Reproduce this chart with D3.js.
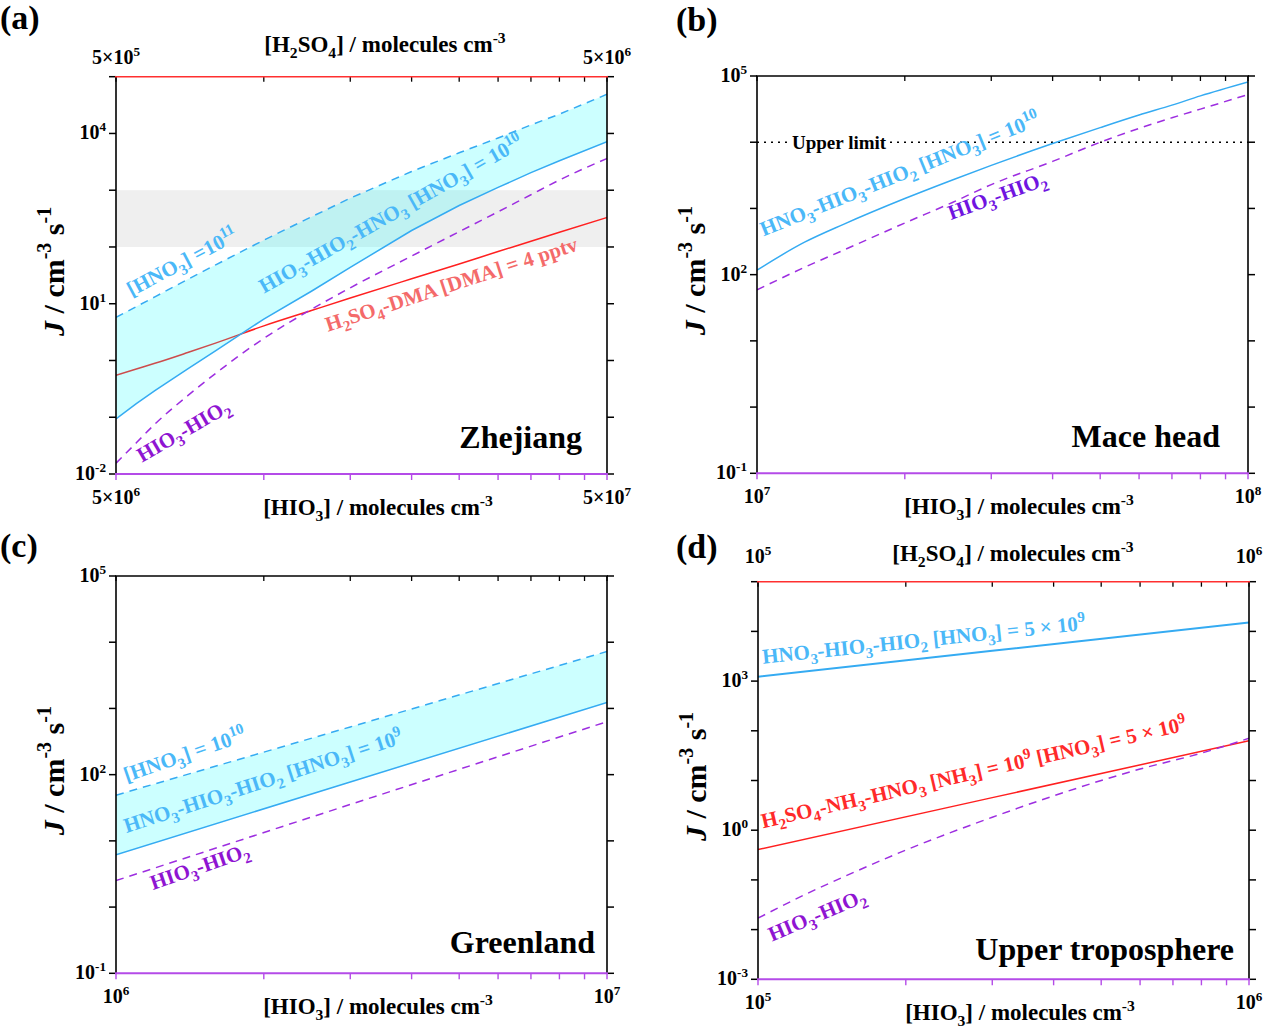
<!DOCTYPE html>
<html><head><meta charset="utf-8">
<script src="https://cdn.jsdelivr.net/npm/d3@7"></script>
<style>html,body{margin:0;padding:0;background:#fff;}svg{display:block;}</style>
</head><body>
<script>
// ---------------- DATA ----------------
// Panel (a) Zhejiang
const hio3A  = [5e6,5.5e6,6e6,7e6,8e6,1e7,1.25e7,1.5e7,2e7,2.5e7,3e7,3.5e7,4e7,5e7];
const h2so4A = [5e5,5.5e5,6e5,7e5,8e5,1e6,1.25e6,1.5e6,2e6,2.5e6,3e6,3.5e6,4e6,5e6];
const jA_HNO3_1e11 = [5.75,8.9,13.2,26.9,49,132,339,724,2140,4570,8320,14100,21900,49000];
const jA_HNO3_1e10 = [0.0933,0.174,0.295,0.708,1.51,5.37,16.6,43.7,195,537,1120,2040,3310,7160];
const jA_DMA       = [0.55,0.708,0.891,1.38,2.04,4.07,7.59,12.6,27.5,50.1,83.2,126,182,331];
const jA_HIO3      = [0.0155,0.0355,0.0759,0.24,0.603,2.45,7.94,19.1,69.2,186,417,832,1510,3630];
const bandA = [1e2,1e3];
// Panel (b) Mace head
const hio3B = [1e7,1.25e7,1.5e7,2e7,2.5e7,3e7,4e7,5e7,6e7,7e7,8e7,1e8];
const jB_HNO3 = [117,309,575,1410,2690,4470,9550,16600,25700,36300,50100,81300];
const jB_HIO3 = [58.9,129,234,603,1230,2290,5130,10000,16200,23400,31600,52500];
const upperLimitB = 1e4;
// Panel (c) Greenland
const hio3C = [1e6,3e6,1e7];
const jC_HNO3_1e10 = [49,525,7240];
const jC_HNO3_1e9  = [6.17,77.6,1230];
const jC_HIO3      = [2.51,35.5,631];
// Panel (d) Upper troposphere
const hio3D = [1e5,1.25e5,1.5e5,2e5,3e5,4e5,5e5,6e5,8e5,1e6];
const jD_HIO3 = [0.017,0.0513,0.117,0.398,1.82,4.9,10,17,35.5,70.8];
const hio3D_line = [1e5,3e5,1e6];
const jD_HNO3 = [1230,4070,15100];
const h2so4D = [1e5,3e5,1e6];
const jD_NH3 = [0.407,4.52,63.1];
// Ticks
const xTicksA = [5e6,1e7,1.5e7,2e7,2.5e7,3e7,3.5e7,4e7,4.5e7,5e7];
const xTicksB = [1e7,2e7,3e7,4e7,5e7,6e7,7e7,8e7,9e7,1e8];
const xTicksC = [1e6,2e6,3e6,4e6,5e6,6e6,7e6,8e6,9e6,1e7];
const xTicksD = [1e5,2e5,3e5,4e5,5e5,6e5,7e5,8e5,9e5,1e6];
const yTicksA = [1e-2,1e-1,1e0,1e1,1e2,1e3,1e4,1e5];
const yTicksB = [1e-1,1e0,1e1,1e2,1e3,1e4,1e5];
const yTicksD = [1e-3,1e-2,1e-1,1e0,1e1,1e2,1e3,1e4,1e5];
const yLabA = [[1e-2,"10^{-2}"],[1e1,"10^{1}"],[1e4,"10^{4}"]];
const yLabB = [[1e-1,"10^{-1}"],[1e2,"10^{2}"],[1e5,"10^{5}"]];
const yLabD = [[1e-3,"10^{-3}"],[1e0,"10^{0}"],[1e3,"10^{3}"]];

// ---------------- STYLE ----------------
const FONT = "'Liberation Serif','Times New Roman',Times,serif";
const BLUE = "#35abf2", BLUET = "#4ab8f8", RED = "#ff2020", PURP = "#9d2ee0", AXP = "#b44be8";

const svg = d3.select("body").append("svg").attr("width",1263).attr("height",1028)
  .attr("font-family",FONT);

function rich(parent, str, fs, color, ratio) {
  const r = ratio || 0.72;
  const t = parent.append("text").attr("font-family",FONT).attr("font-weight","bold")
    .attr("font-size",fs).attr("fill",color||"#000");
  const re = /([_^])\{([^}]*)\}/g;
  const parts = []; let last = 0, m;
  while ((m = re.exec(str))) {
    if (m.index > last) parts.push({t:str.slice(last,m.index),k:"n"});
    parts.push({t:m[2],k:m[1]}); last = re.lastIndex;
  }
  if (last < str.length) parts.push({t:str.slice(last),k:"n"});
  let cur = 0;
  parts.forEach(p => {
    const target = p.k==="_" ? 0.26*fs : p.k==="^" ? -0.4*fs : 0;
    t.append("tspan").attr("dy",(target-cur).toFixed(2))
      .attr("font-size", p.k==="n" ? fs : fs*r).text(p.t);
    cur = target;
  });
  return t;
}

function drawPanel(p, idx) {
  const L = p.left, T = p.top, R = p.left+p.w, B = p.top+p.h;
  const x = d3.scaleLog().domain(p.xDom).range([L,R]);
  const y = d3.scaleLog().domain(p.yDom).range([B,T]);
  const xt = p.topDom ? d3.scaleLog().domain(p.topDom).range([L,R]) : null;
  const g = svg.append("g");
  const cid = "clip"+idx;
  g.append("clipPath").attr("id",cid).append("rect").attr("x",L).attr("y",T).attr("width",p.w).attr("height",p.h);
  const pg = g.append("g").attr("clip-path",`url(#${cid})`);

  if (p.band) pg.append("rect").attr("x",L).attr("width",p.w)
      .attr("y",y(p.band[1])).attr("height",y(p.band[0])-y(p.band[1])).attr("fill","#efefef");

  p.layers.forEach(s => {
    const sx = s.top ? xt : x;
    const cv = s.smooth ? d3.curveMonotoneX : d3.curveLinear;
    if (s.type==="area") {
      const a = d3.area().curve(cv).x((d,i)=>sx(s.xs[i])).y0((d,i)=>y(s.y0[i])).y1((d,i)=>y(s.y1[i]));
      pg.append("path").attr("d",a(s.xs)).attr("fill","rgba(0,255,255,0.2)").attr("stroke","none");
    } else if (s.type==="hline") {
      pg.append("line").attr("x1",L).attr("x2",R).attr("y1",y(s.v)).attr("y2",y(s.v))
        .attr("stroke","#000").attr("stroke-width",1.6).attr("stroke-dasharray","2,5");
    } else {
      const ln = d3.line().curve(cv).x((d,i)=>sx(s.xs[i])).y((d,i)=>y(s.ys[i]));
      pg.append("path").attr("d",ln(s.xs)).attr("fill","none").attr("stroke",s.color)
        .attr("stroke-width",s.w||1.5).attr("stroke-dasharray",s.dash||null);
    }
  });

  p.labels.forEach(l => {
    const t = rich(g, l.text, l.fs||21, l.color);
    t.attr("transform",`translate(${L+l.dx},${T+l.dy}) rotate(${l.rot||0})`);
    if (l.bg) {
      const bb = t.node().getBBox();
      g.insert("rect", () => t.node()).attr("x",L+l.dx+bb.x-2).attr("y",T+l.dy+bb.y)
        .attr("width",bb.width+4).attr("height",bb.height).attr("fill","#fff");
    }
  });
  g.append("text").attr("x",L+p.site[1]).attr("y",T+p.site[2]).attr("text-anchor","end")
    .attr("font-weight","bold").attr("font-size",32).text(p.site[0]);

  const ax = g.append("g");
  ax.append("line").attr("x1",L).attr("x2",L).attr("y1",T).attr("y2",B).attr("stroke","#000").attr("stroke-width",1.6);
  ax.append("line").attr("x1",R).attr("x2",R).attr("y1",T).attr("y2",B).attr("stroke","#000").attr("stroke-width",1.6);
  p.yTicks.forEach(v => {
    ax.append("line").attr("x1",L-7).attr("x2",L).attr("y1",y(v)).attr("y2",y(v)).attr("stroke","#000").attr("stroke-width",1.5);
    ax.append("line").attr("x1",R).attr("x2",R+7).attr("y1",y(v)).attr("y2",y(v)).attr("stroke","#000").attr("stroke-width",1.5);
  });
  p.xTicks.forEach(v => {
    ax.append("line").attr("x1",x(v)).attr("x2",x(v)).attr("y1",T).attr("y2",T+5).attr("stroke","#000").attr("stroke-width",1.3);
  });
  ax.append("line").attr("x1",L-1).attr("x2",R+1).attr("y1",T).attr("y2",T)
    .attr("stroke",p.topDom ? "#ff3030" : "#000").attr("stroke-width",1.6);
  p.xTicks.forEach(v => {
    ax.append("line").attr("x1",x(v)).attr("x2",x(v)).attr("y1",B).attr("y2",B+6).attr("stroke",AXP).attr("stroke-width",1.4);
  });
  ax.append("line").attr("x1",L-1).attr("x2",R+1).attr("y1",B).attr("y2",B).attr("stroke",AXP).attr("stroke-width",2);

  p.yLab.forEach(([v,s]) => {
    rich(g, s, 20, "#000", 0.66).attr("x",L-10).attr("y",y(v)+6).attr("text-anchor","end");
  });
  p.xLab.forEach(([v,s]) => {
    rich(g, s, 20, "#000", 0.66).attr("x",x(v)).attr("y",B+30).attr("text-anchor","middle");
  });
  rich(g, "[HIO_{3}] / molecules cm^{-3}", 23, "#000", 0.68).attr("x",L+262).attr("y",B+41).attr("text-anchor","middle");
  if (p.topDom) {
    p.topLab.forEach(([v,s]) => {
      rich(g, s, 20, "#000", 0.66).attr("x",xt(v)).attr("y",p.topLabY).attr("text-anchor","middle");
    });
    rich(g, "[H_{2}SO_{4}] / molecules cm^{-3}", 23, "#000", 0.68).attr("x",p.topTitle[0]).attr("y",p.topTitle[1]).attr("text-anchor","middle");
  }
  const yt = g.append("text").attr("transform",`translate(${L-52},${T+p.h/2-4}) rotate(-90)`)
    .attr("text-anchor","middle").attr("font-weight","bold").attr("font-size",30);
  yt.append("tspan").attr("font-style","italic").text("J");
  yt.append("tspan").text(" / cm");
  yt.append("tspan").attr("font-size",20).attr("dy",-13).text("-3");
  yt.append("tspan").attr("dy",13).text(" s");
  yt.append("tspan").attr("font-size",20).attr("dy",-13).text("-1");
  g.append("text").attr("x",p.tag[1]).attr("y",p.tag[2]).attr("font-weight","bold").attr("font-size",34).text(p.tag[0]);
}

const panels = [
  { tag:["(a)",0,29], left:116, top:76.7, w:491, h:397.3, xDom:[5e6,5e7], yDom:[1e-2,1e5], topDom:[5e5,5e6],
    band: bandA, xTicks: xTicksA, yTicks: yTicksA, yLab: yLabA,
    xLab: [[5e6,"5\u00d710^{6}"],[5e7,"5\u00d710^{7}"]],
    topLab: [[5e5,"5\u00d710^{5}"],[5e6,"5\u00d710^{6}"]], topLabY: 64, topTitle:[385,52],
    layers: [
      {type:"line", top:true, xs:h2so4A, ys:jA_DMA, color:RED, smooth:true},
      {type:"area", xs:hio3A, y0:jA_HNO3_1e10, y1:jA_HNO3_1e11},
      {type:"line", xs:hio3A, ys:jA_HNO3_1e11, color:BLUE, dash:"8,6"},
      {type:"line", xs:hio3A, ys:jA_HNO3_1e10, color:BLUE},
      {type:"line", xs:hio3A, ys:jA_HIO3, color:PURP, dash:"8,6", smooth:true}
    ],
    labels: [
      {text:"[HNO_{3}] =10^{11}", dx:15.5, dy:220, rot:-28, color:BLUET},
      {text:"HIO_{3}-HIO_{2}-HNO_{3} [HNO_{3}] = 10^{10}", dx:148, dy:217, rot:-29.5, color:BLUET},
      {text:"H_{2}SO_{4}-DMA [DMA] = 4 pptv", dx:212, dy:255, rot:-18, color:"#f46a6a"},
      {text:"HIO_{3}-HIO_{2}", dx:26, dy:386, rot:-30, color:"#8f14d2"}
    ],
    site:["Zhejiang",466,371] },
  { tag:["(b)",676,31], left:757, top:76, w:491, h:397.3, xDom:[1e7,1e8], yDom:[1e-1,1e5],
    xTicks: xTicksB, yTicks: yTicksB, yLab: yLabB,
    xLab: [[1e7,"10^{7}"],[1e8,"10^{8}"]],
    layers: [
      {type:"hline", v:upperLimitB},
      {type:"line", xs:hio3B, ys:jB_HNO3, color:BLUE, smooth:true},
      {type:"line", xs:hio3B, ys:jB_HIO3, color:PURP, dash:"8,6", smooth:true}
    ],
    labels: [
      {text:"Upper limit", dx:35, dy:72.5, rot:0, color:"#000", fs:19, bg:true},
      {text:"HNO_{3}-HIO_{3}-HIO_{2} [HNO_{3}] = 10^{10}", dx:6.5, dy:160.5, rot:-22, color:BLUET},
      {text:"HIO_{3}-HIO_{2}", dx:194, dy:144, rot:-20, color:"#7014e0"}
    ],
    site:["Mace head",463,371] },
  { tag:["(c)",0,557], left:116, top:576, w:491, h:397.3, xDom:[1e6,1e7], yDom:[1e-1,1e5],
    xTicks: xTicksC, yTicks: yTicksB, yLab: yLabB,
    xLab: [[1e6,"10^{6}"],[1e7,"10^{7}"]],
    layers: [
      {type:"area", xs:hio3C, y0:jC_HNO3_1e9, y1:jC_HNO3_1e10},
      {type:"line", xs:hio3C, ys:jC_HNO3_1e10, color:BLUE, dash:"8,6"},
      {type:"line", xs:hio3C, ys:jC_HNO3_1e9, color:BLUE},
      {type:"line", xs:hio3C, ys:jC_HIO3, color:PURP, dash:"8,6"}
    ],
    labels: [
      {text:"[HNO_{3}] = 10^{10}", dx:10.5, dy:206, rot:-19, color:BLUET},
      {text:"HNO_{3}-HIO_{3}-HIO_{2} [HNO_{3}] = 10^{9}", dx:10.5, dy:257, rot:-18, color:BLUET},
      {text:"HIO_{3}-HIO_{2}", dx:37, dy:314, rot:-19, color:"#8f14d2"}
    ],
    site:["Greenland",479,377] },
  { tag:["(d)",676,558], left:758, top:581.7, w:491, h:397.6, xDom:[1e5,1e6], yDom:[1e-3,1e5], topDom:[1e5,1e6],
    xTicks: xTicksD, yTicks: yTicksD, yLab: yLabD,
    xLab: [[1e5,"10^{5}"],[1e6,"10^{6}"]],
    topLab: [[1e5,"10^{5}"],[1e6,"10^{6}"]], topLabY: 563, topTitle:[1013,561],
    layers: [
      {type:"line", xs:hio3D_line, ys:jD_HNO3, color:BLUE, w:2},
      {type:"line", top:true, xs:h2so4D, ys:jD_NH3, color:RED},
      {type:"line", xs:hio3D, ys:jD_HIO3, color:PURP, dash:"8,6", smooth:true}
    ],
    labels: [
      {text:"HNO_{3}-HIO_{3}-HIO_{2} [HNO_{3}] = 5 \u00d7 10^{9}", dx:5, dy:82, rot:-6, color:BLUET},
      {text:"H_{2}SO_{4}-NH_{3}-HNO_{3} [NH_{3}] = 10^{9} [HNO_{3}] = 5 \u00d7 10^{9}", dx:5, dy:246.5, rot:-13, color:"#ff2a2a"},
      {text:"HIO_{3}-HIO_{2}", dx:14, dy:360, rot:-23, color:"#8f14d2"}
    ],
    site:["Upper troposphere",476,378] }
];

panels.forEach((p,i) => drawPanel(p,i));
</script>
</body></html>
